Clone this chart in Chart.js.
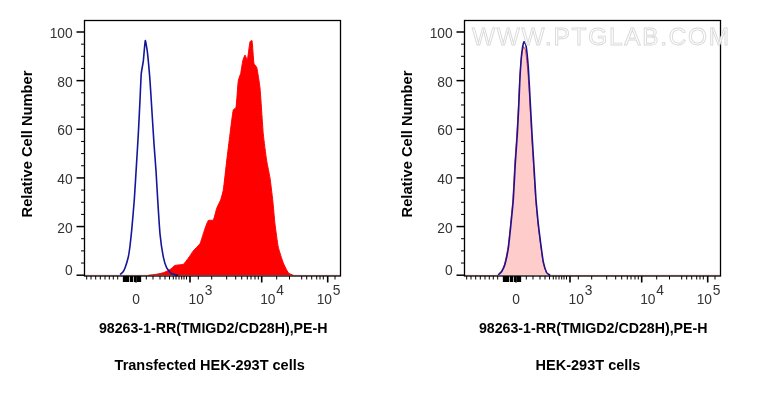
<!DOCTYPE html>
<html><head><meta charset="utf-8">
<style>html,body{margin:0;padding:0;background:#fff}canvas{position:absolute;top:0}</style>
<script src="https://cdn.jsdelivr.net/npm/chart.js@4"></script></head>
<body>
<canvas id="a" style="left:0;width:380px;height:405px"></canvas>
<canvas id="b" style="left:380px;width:378px;height:405px"></canvas>
<script>
// x values are display channels of the biexponential axis (0-256)
const xTitle = "98263-1-RR(TMIGD2/CD28H),PE-H";
const yTitle = "Relative Cell Number";
const leftTitle = "Transfected HEK-293T cells";
const rightTitle = "HEK-293T cells";
const watermark = "WWW.PTGLAB.COM";

const yMajor = [0,20,40,60,80,100];
const yMinor = [5,10,15,25,30,35,45,50,55,65,70,75,85,90,95];
const xMajor = [51.5,105.5,177.2,243.2];
const xMajorBase = ["0","10","10","10"];
const xMajorExp = ["","3","4","5"];
const xMinor = [2.2,6.5,11.2,15.8,20.5,24.8,28.8,33.2,
  61.8,68.5,75.5,80.5,85,88.8,91.5,94.5,97.2,99.5,102,
  113.8,127.2,142.2,151.2,157.2,162.8,166.5,170.5,173.8,
  192.2,205,217.2,222.2,227.2,232.2,235.5,238.8,250.5];
const xDense = [39,40,41,42,43,44,46,47,48,50,51,53,54,55,56];

const leftBlueX = [35.5,38.2,40.5,43.8,45.5,47.2,49.8,52.2,53.8,55.5,56.8,58.8,60.8,62.8,65.5,67.5,69.5,71.5,73.2,75.5,78.8,82.2,87.2,93.8];
const leftBlueY = [0.3,1.2,3,7.5,12,18.5,31,47,58,72,83,88,96.5,92,80,67,54,43,31,17,7.5,3,0.6,0];
const leftRedX = [0,63.8,72.2,78.8,85.5,90.5,98.8,103.8,108.8,115.5,119.5,123.8,128.8,132.2,136.2,138.8,142.2,145.5,148.8,151.5,153.8,156.2,158.2,160.5,162.8,165.5,167.5,169.5,172.2,175.5,178.8,182.2,185.5,188.2,190.5,193.8,198.8,203.8,208.8,256];
const leftRedY = [0,0,0.4,1,2.3,4,4.5,7,10,13,18,22.5,22.7,27.5,31,35,47,58,68,69,80,83,88,90.5,88.5,96,96.5,87,85.5,77,58,47,40,31,21,11.5,5,1,0,0];

const rightBlueX = [33.8,37.2,40.5,43.8,46.2,48.8,50.8,52.8,54.2,55.5,57.2,59.5,61.5,63.8,65.5,67.5,69.5,71.5,73.8,76.2,78.8,82.2,85.5];
const rightBlueY = [0.2,1.5,4.5,11,20,31,46,58,69,81.5,91,96,94.5,85.5,73,58,44.5,31,21,13,5.5,1,0];
const rightRedX = [0,33,36.8,40,43.3,45.8,48.3,50.3,52.3,53.8,55.2,57,59,61,63.3,65.2,67.2,69.2,71.2,73.5,76,78.5,82,85,256];
const rightRedY = [0,0,1.5,4.5,11,20,31,46,58,69,81,90,94,92.5,84,72,57,44,31,21,13,5.5,1,0,0];

const pts = (xs, ys) => xs.map((x, i) => ({x, y: ys[i]}));
const font = (w, s) => `${w} ${s}px "Liberation Sans", Arial, sans-serif`;
const TICK = "#333";
const PALE = "rgba(255,0,0,0.3)";
const paleBaseline = { borderColor: s => (s.p0.parsed.y === 0 && s.p1.parsed.y === 0) ? PALE : undefined };

function decor(title, titleSize, titleCx, wm) {
  return {
    id: "decor",
    afterDraw(c) {
      const g = c.ctx, A = c.chartArea, X = c.scales.x, Y = c.scales.y;
      g.save();
      g.strokeStyle = "#000";
      g.lineWidth = 1.3;
      g.strokeRect(A.left, A.top, A.right - A.left, A.bottom - A.top);
      const hTick = (v, len, w) => { const p = Y.getPixelForValue(v); g.lineWidth = w; g.beginPath(); g.moveTo(A.left - len, p); g.lineTo(A.left, p); g.stroke(); };
      yMajor.forEach(v => hTick(v, 8, 1.5));
      yMinor.forEach(v => hTick(v, 3.5, 1));
      const vTick = (v, len, w) => { const p = X.getPixelForValue(v); g.lineWidth = w; g.beginPath(); g.moveTo(p, A.bottom); g.lineTo(p, A.bottom + len); g.stroke(); };
      xMajor.forEach(v => vTick(v, 6.5, 1.6));
      xMinor.forEach(v => vTick(v, 3.5, 1));
      xDense.forEach(v => vTick(v, 6, 1.3));
      g.fillStyle = TICK; g.font = font("normal", 13.8);
      g.textAlign = "right"; g.textBaseline = "alphabetic";
      yMajor.forEach(v => {
        const shift = v === 0 ? -5 : 1;
        g.fillText(String(v), A.left - 11.8, Y.getPixelForValue(v) + 5 + shift);
      });
      g.textAlign = "left";
      const labelBase = A.bottom + 27.5;
      xMajor.forEach((v, i) => {
        const p = X.getPixelForValue(v), b = xMajorBase[i], e = xMajorExp[i];
        if (!e) { g.textAlign = "center"; g.fillText(b, p, labelBase); g.textAlign = "left"; return; }
        const lx = p + (i === 3 ? -11 : -1.5);
        g.fillText(b, lx, labelBase);
        g.fillText(e, lx + g.measureText(b).width + 0.8, labelBase - 8.5);
      });
      g.fillStyle = "#000"; g.textAlign = "center";
      g.font = font("bold", 14.2);
      g.fillText(xTitle, 213.2, 333);
      g.font = font("bold", titleSize);
      g.fillText(title, titleCx, 370);
      g.save();
      g.font = font("bold", 14.7);
      g.translate(32, 144); g.rotate(-Math.PI / 2);
      g.fillText(yTitle, 0, 0);
      g.restore();
      if (wm) {
        g.font = font("normal", 24.4); g.textAlign = "left";
        g.letterSpacing = "1.75px";
        g.fillStyle = "#ffffff"; g.strokeStyle = "#d9d9d9"; g.lineWidth = 0.9;
        g.fillText(watermark, 92, 44.5);
        g.strokeText(watermark, 92, 44.5);
      }
      g.restore();
    }
  };
}

function make(id, datasets, title, titleSize, titleCx, wm, rightPad) {
  return new Chart(document.getElementById(id), {
    type: "line",
    data: { datasets },
    options: {
      responsive: false, animation: false, devicePixelRatio: 1,
      layout: { padding: { left: 0, top: 20.5, right: rightPad, bottom: 0 } },
      plugins: { legend: { display: false }, tooltip: { enabled: false }, title: { display: false } },
      elements: { point: { radius: 0 }, line: { tension: 0.15 } },
      scales: {
        x: { type: "linear", min: 0, max: 256, afterFit: s => { s.height = 129; },
             grid: { display: false }, border: { display: false }, ticks: { display: false } },
        y: { type: "linear", min: -0.33, max: 104.73, afterFit: s => { s.width = 84.5; },
             grid: { display: false }, border: { display: false }, ticks: { display: false } }
      }
    },
    plugins: [decor(title, titleSize, titleCx, wm)]
  });
}

const a = document.getElementById("a"); a.width = 380; a.height = 405;
const b = document.getElementById("b"); b.width = 378; b.height = 405;

make("a", [
  { label: "Sample", data: pts(leftRedX, leftRedY), borderColor: "#ff0000", segment: paleBaseline, borderWidth: 1, backgroundColor: "#ff0000", fill: "origin", order: 2 },
  { label: "Control", data: pts(leftBlueX, leftBlueY), borderColor: "#16169a", borderWidth: 1.6, fill: false, order: 1 }
], leftTitle, 14.5, 209.7, false, 39.5);

make("b", [
  { label: "Sample", data: pts(rightRedX, rightRedY), borderColor: "rgba(220,20,40,0.8)", segment: paleBaseline, borderWidth: 1, backgroundColor: "#ffcccc", fill: "origin", order: 2 },
  { label: "Control", data: pts(rightBlueX, rightBlueY), borderColor: "#1c1290", borderWidth: 1.6, fill: false, order: 1 }
], rightTitle, 14.5, 208, true, 37.5);
</script>
</body></html>
